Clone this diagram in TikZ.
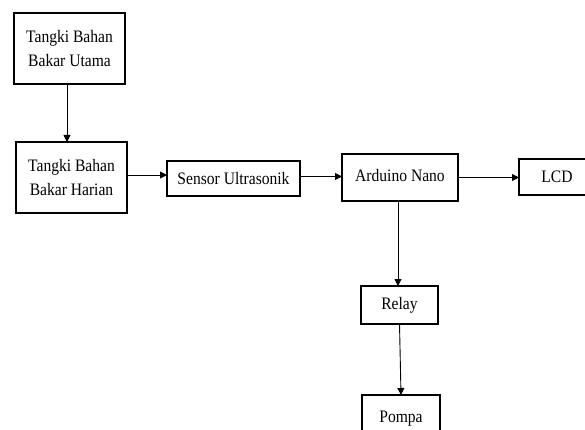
\documentclass[tikz,border=0pt]{standalone}
\usepackage{fontspec}
\setmainfont[FakeStretch=0.89]{Liberation Serif}
\usetikzlibrary{arrows.meta}
\begin{document}
\begin{tikzpicture}[x=1pt,y=-1pt,
  blk/.style={draw, line width=1.6pt, inner sep=0pt, outer sep=0pt, align=center,
    font=\fontsize{17.5}{24}\selectfont},
  arr/.style={line width=0.9pt, -{Triangle[length=7pt,width=7pt]}}]
\useasboundingbox[fill=white] (0,0) rectangle (585,430);
\node[blk, minimum width=111pt, minimum height=71pt] (b1) at (69.5,48.5) {Tangki Bahan\\Bakar Utama};
\node[blk, minimum width=111pt, minimum height=71pt] (b2) at (71.5,177.5) {Tangki Bahan\\Bakar Harian};
\node[blk, minimum width=133pt, minimum height=35pt] (sensor) at (233.5,178.5) {Sensor Ultrasonik};
\node[blk, minimum width=116pt, minimum height=47pt] (ard) at (400,177.5) {\raisebox{4pt}{Arduino Nano}};
\node[blk, minimum width=76pt, minimum height=36pt] (lcd) at (557,177) {LCD};
\node[blk, minimum width=77pt, minimum height=38pt] (relay) at (399.5,305) {Relay};
\node[blk, minimum width=78pt, minimum height=48pt] (pompa) at (401,419) {Pompa};
\draw[arr] ([xshift=-2.5pt]b1.south) -- ([xshift=-2.5pt]b1.south |- b2.north);
\draw[arr] ([yshift=2.5pt]b2.east) -- ([yshift=2.5pt]b2.east -| sensor.west);
\draw[arr] ([yshift=2pt]sensor.east) -- ([yshift=2pt]sensor.east -| ard.west);
\draw[arr] (ard.east) -- (ard.east -| lcd.west);
\draw[arr] ([xshift=-2pt]ard.south) -- ([xshift=-2pt]ard.south |- relay.north);
\draw[arr] (relay.south) -- (pompa.north);
\end{tikzpicture}
\end{document}
